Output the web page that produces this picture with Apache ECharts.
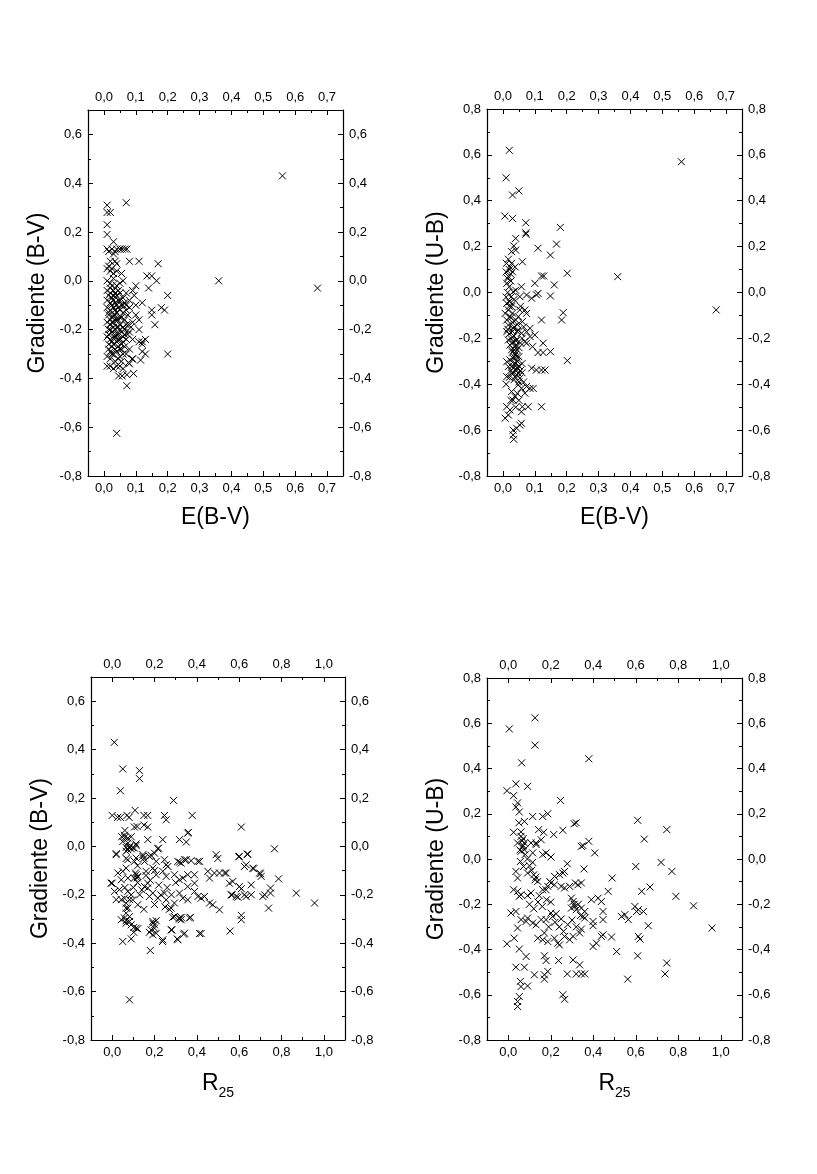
<!DOCTYPE html>
<html><head><meta charset="utf-8">
<script src="https://cdn.jsdelivr.net/npm/echarts@6/dist/echarts.min.js"></script>
<style>html,body{margin:0;padding:0;background:#fff}#c{width:817px;height:1174px}</style>
</head><body><div id="c"></div>
<script>
// Panel 1: E(B-V) vs Gradiente (B-V)
const ebvBV = [
[0.56,0.43],[0.07,0.32],[0.01,0.31],[0.01,0.28],[0.02,0.28],[0.01,0.23],[0.01,0.19],[0.03,0.16],
[0.01,0.13],[0.015,0.12],[0.025,0.13],[0.035,0.12],[0.04,0.13],[0.05,0.13],[0.057,0.13],[0.065,0.13],[0.072,0.13],[0.03,0.11],
[0.02,0.08],[0.035,0.08],[0.04,0.07],[0.08,0.08],[0.11,0.08],[0.17,0.07],
[0.01,0.05],[0.02,0.04],[0.03,0.03],[0.04,0.04],[0.055,0.03],[0.015,0.06],[0.025,0.05],
[0.135,0.02],[0.15,0.02],[0.165,0.0],[0.36,0.0],[0.67,-0.03],[0.2,-0.06],[0.1,-0.02],[0.09,-0.04],[0.14,-0.03],
[0.15,-0.12],[0.15,-0.14],[0.18,-0.11],[0.19,-0.12],[0.16,-0.18],[0.12,-0.09],[0.1,-0.1],[0.08,-0.08],
[0.11,-0.2],[0.11,-0.25],[0.12,-0.25],[0.13,-0.24],[0.12,-0.29],[0.13,-0.3],[0.2,-0.3],[0.09,-0.32],[0.07,-0.3],[0.08,-0.28],[0.08,-0.34],
[0.046,-0.39],[0.057,-0.39],[0.072,-0.385],[0.093,-0.38],[0.072,-0.43],[0.04,-0.35],[0.05,-0.35],[0.01,-0.35],[0.02,-0.35],[0.03,-0.36],[0.06,-0.36],
[0.01,-0.31],[0.02,-0.32],[0.04,-0.625],[0.077,-0.18],[0.12,-0.26],[0.115,-0.325],[0.088,-0.32],[0.077,-0.335],
[0.01,0.0],[0.02,-0.01],[0.03,0.01],[0.04,-0.02],[0.05,-0.01],[0.06,0.0],
[0.01,-0.04],[0.02,-0.05],[0.03,-0.04],[0.04,-0.06],[0.05,-0.05],[0.06,-0.07],[0.07,-0.05],
[0.01,-0.08],[0.02,-0.09],[0.025,-0.07],[0.035,-0.09],[0.045,-0.08],[0.055,-0.1],[0.065,-0.09],
[0.01,-0.11],[0.02,-0.12],[0.03,-0.11],[0.04,-0.13],[0.05,-0.12],[0.06,-0.13],[0.07,-0.12],[0.08,-0.11],
[0.015,-0.14],[0.025,-0.15],[0.035,-0.14],[0.045,-0.16],[0.055,-0.15],[0.065,-0.16],[0.075,-0.14],
[0.01,-0.17],[0.02,-0.18],[0.03,-0.17],[0.04,-0.19],[0.05,-0.18],[0.06,-0.19],[0.07,-0.18],[0.09,-0.17],
[0.015,-0.2],[0.025,-0.21],[0.035,-0.2],[0.045,-0.22],[0.055,-0.21],[0.065,-0.22],[0.08,-0.21],
[0.01,-0.23],[0.02,-0.24],[0.03,-0.23],[0.04,-0.25],[0.05,-0.24],[0.06,-0.25],[0.07,-0.24],
[0.015,-0.26],[0.025,-0.27],[0.035,-0.28],[0.045,-0.27],[0.055,-0.28],[0.065,-0.27],
[0.02,-0.29],[0.03,-0.3],[0.04,-0.29],[0.05,-0.31],[0.06,-0.3],
[0.03,-0.06],[0.04,-0.1],[0.02,-0.16],[0.03,-0.19],[0.04,-0.22],[0.03,-0.26],[0.05,-0.15],[0.045,-0.04],
[0.035,-0.12],[0.025,-0.02],[0.06,-0.23],[0.1,-0.14],[0.09,-0.24],[0.11,-0.16],[0.085,-0.19],[0.095,-0.06],
[0.015,-0.06],[0.025,-0.1],[0.035,-0.05],[0.045,-0.11],[0.015,-0.13],[0.025,-0.17],[0.035,-0.16],[0.045,-0.19],
[0.015,-0.22],[0.025,-0.25],[0.035,-0.23],[0.045,-0.24],[0.015,-0.28],[0.025,-0.3],[0.035,-0.33],[0.045,-0.32],
[0.055,-0.33],[0.05,-0.2],[0.02,-0.2],[0.03,-0.14],[0.04,-0.16],[0.05,-0.08],[0.02,-0.03],[0.03,-0.08],
[0.055,-0.26],[0.065,-0.2],[0.07,-0.1],[0.075,-0.22],[0.06,-0.1],[0.05,-0.28]
];

// Panel 2: E(B-V) vs Gradiente (U-B)
const ebvUB = [
[0.02,0.62],[0.56,0.57],[0.01,0.50],[0.03,0.425],[0.05,0.443],[0.006,0.333],[0.03,0.323],[0.072,0.304],[0.072,0.26],[0.072,0.254],
[0.18,0.284],[0.04,0.236],[0.034,0.203],[0.027,0.178],[0.04,0.185],[0.11,0.193],[0.168,0.211],[0.149,0.163],[0.061,0.134],[0.017,0.145],
[0.027,0.127],[0.011,0.127],[0.038,0.112],[0.022,0.112],[0.121,0.072],[0.128,0.072],[0.1,0.04],[0.161,0.033],[0.202,0.084],[0.36,0.069],
[0.017,0.07],[0.025,0.05],[0.012,0.04],[0.02,0.025],[0.03,0.09],[0.032,0.003],[0.058,0.025],[0.074,-0.011],[0.053,-0.018],[0.09,-0.025],
[0.105,-0.01],[0.11,-0.004],[0.149,-0.015],[0.669,-0.076],[0.012,-0.047],[0.017,-0.076],[0.027,-0.062],[0.007,-0.091],[0.022,-0.105],[0.012,-0.12],
[0.053,-0.076],[0.069,-0.076],[0.074,-0.091],[0.048,-0.105],[0.121,-0.12],[0.184,-0.12],[0.189,-0.088],[0.061,-0.127],[0.017,-0.142],[0.032,-0.156],
[0.012,-0.171],[0.048,-0.163],[0.074,-0.171],[0.085,-0.156],[0.058,-0.178],[0.1,-0.185],[0.085,-0.192],[0.017,-0.207],[0.032,-0.214],[0.043,-0.207],
[0.022,-0.229],[0.038,-0.236],[0.069,-0.214],[0.074,-0.221],[0.093,-0.236],[0.11,-0.262],[0.126,-0.221],[0.126,-0.262],[0.149,-0.258],[0.027,-0.25],
[0.038,-0.265],[0.032,-0.287],[0.043,-0.28],[0.022,-0.294],[0.012,-0.302],[0.202,-0.297],[0.09,-0.33],[0.105,-0.338],[0.121,-0.338],[0.132,-0.338],
[0.017,-0.323],[0.032,-0.33],[0.043,-0.338],[0.027,-0.352],[0.012,-0.367],[0.038,-0.367],[0.048,-0.352],[0.053,-0.374],[0.048,-0.403],[0.058,-0.418],
[0.074,-0.41],[0.085,-0.418],[0.095,-0.418],[0.027,-0.432],[0.038,-0.454],[0.032,-0.469],[0.069,-0.439],[0.012,-0.498],[0.022,-0.512],[0.017,-0.534],
[0.007,-0.548],[0.061,-0.498],[0.058,-0.52],[0.079,-0.498],[0.121,-0.498],[0.032,-0.6],[0.043,-0.592],[0.053,-0.578],[0.058,-0.57],[0.032,-0.621],[0.034,-0.64],
[0.01,0.09],[0.02,0.1],[0.015,0.0],[0.025,-0.02],[0.035,-0.03],[0.04,0.01],[0.01,-0.02],[0.02,-0.06],[0.03,-0.09],[0.04,-0.12],
[0.03,-0.13],[0.02,-0.18],[0.035,-0.19],[0.045,-0.17],[0.025,-0.2],[0.03,-0.22],[0.04,-0.23],[0.05,-0.24],[0.035,-0.25],[0.03,-0.26],
[0.04,-0.27],[0.045,-0.3],[0.035,-0.31],[0.03,-0.32],[0.05,-0.32],[0.04,-0.34],[0.025,-0.34],[0.055,-0.34],[0.045,-0.36],[0.06,-0.35],
[0.02,-0.37],[0.065,-0.39],[0.01,-0.4],[0.06,-0.2],[0.055,-0.06],[0.065,-0.15],[0.045,-0.44],[0.05,-0.47],[0.025,-0.47],[0.04,-0.5],
[0.015,0.06],[0.025,0.08],[0.02,-0.04],[0.03,-0.05],[0.025,-0.11],[0.035,-0.15],[0.015,-0.16],[0.03,-0.17],[0.04,-0.21],[0.045,-0.25],
[0.035,-0.28],[0.05,-0.28],[0.04,-0.31],[0.03,-0.35],[0.045,-0.33],[0.035,-0.38],[0.05,-0.39],[0.06,-0.31],[0.055,-0.22],[0.045,-0.14]
];

// Panel 3: R25 vs Gradiente (B-V)
const r25BV = [
[0.01,0.43],[0.05,0.32],[0.129,0.313],[0.129,0.28],[0.039,0.23],[0.29,0.19],
[0.0,0.128],[0.026,0.12],[0.039,0.12],[0.07,0.128],[0.08,0.12],[0.108,0.149],[0.15,0.128],[0.168,0.128],[0.247,0.128],[0.255,0.11],[0.378,0.128],
[0.61,0.08],[0.105,0.08],[0.118,0.082],[0.15,0.088],[0.168,0.08],[0.06,0.066],
[0.045,0.04],[0.06,0.037],[0.09,0.04],[0.05,0.02],[0.074,0.014],[0.168,0.028],[0.239,0.028],[0.318,0.028],[0.35,0.018],[0.36,0.058],[0.113,0.01],
[0.767,-0.01],[0.219,-0.007],[0.08,-0.005],[0.096,-0.005],[0.019,-0.03],[0.066,-0.004],[0.082,0.0],[0.066,-0.02],[0.09,-0.01],[0.105,-0.007],
[0.066,-0.05],[0.105,-0.062],[0.145,-0.041],[0.153,-0.062],[0.184,-0.037],[0.216,-0.01],
[0.318,-0.065],[0.342,-0.055],[0.373,-0.059],[0.405,-0.062],[0.491,-0.034],[0.499,-0.05],[0.598,-0.043],[0.638,-0.032],
[0.625,-0.083],[0.669,-0.092],[0.701,-0.113],[0.786,-0.134],[0.748,-0.172],[0.748,-0.193],[0.739,-0.255],[0.87,-0.193],[0.956,-0.234],[0.72,-0.2],
[0.567,-0.2],[0.594,-0.21],[0.625,-0.2],[0.657,-0.2],[0.61,-0.175],
[0.61,-0.285],[0.61,-0.303],[0.557,-0.35],[0.413,-0.36],[0.42,-0.36],[0.282,-0.345],[0.307,-0.382],[0.338,-0.363],[0.238,-0.393],[0.18,-0.43],
[0.05,-0.393],[0.09,-0.382],[0.082,-0.634],
[0.286,-0.293],[0.318,-0.3],[0.326,-0.293],[0.37,-0.293],
[0.176,-0.355],[0.192,-0.365],[0.2,-0.338],[0.192,-0.317],[0.208,-0.307],
[0.102,-0.335],[0.102,-0.355],[0.121,-0.34],[0.043,-0.303],[0.066,-0.307],[0.09,-0.324],
[0.066,-0.255],[0.066,-0.276],[0.082,-0.29],[0.0,-0.152],[0.019,-0.22],[0.043,-0.22],[0.066,-0.235],[0.082,-0.22],
[0.058,0.046],[0.074,0.034],[0.357,0.055],
[0.019,-0.034],[0.074,-0.014],[0.113,0.004],[0.074,-0.055],[0.113,-0.048],
[0.145,-0.034],[0.176,-0.041],[0.2,-0.028],[0.208,-0.062],[0.247,-0.055],[0.255,-0.076],[0.263,-0.083],
[0.31,-0.062],[0.326,-0.069],[0.35,-0.055],[0.413,-0.062],
[0.601,-0.041],[0.641,-0.032],[0.633,-0.076],[0.664,-0.09],[0.696,-0.11],
[0.027,-0.11],[0.05,-0.103],[0.066,-0.09],[0.074,-0.131],[0.043,-0.138],[-0.005,-0.152],
[0.113,-0.117],[0.121,-0.124],[0.105,-0.131],[0.11,-0.11],[0.118,-0.13],
[0.16,-0.103],[0.192,-0.09],[0.208,-0.117],[0.239,-0.103],[0.255,-0.124],[0.168,-0.152],[0.153,-0.166],
[0.294,-0.117],[0.318,-0.138],[0.334,-0.131],[0.357,-0.117],[0.389,-0.117],[0.357,-0.166],[0.389,-0.152],
[0.452,-0.103],[0.46,-0.131],[0.483,-0.11],[0.507,-0.11],[0.531,-0.11],[0.539,-0.11],
[0.554,-0.152],[0.57,-0.145],[0.601,-0.166],[0.657,-0.159],[0.704,-0.124],
[0.562,-0.2],[0.586,-0.207],[0.633,-0.207],[0.712,-0.207],
[0.011,-0.186],[0.034,-0.179],[0.074,-0.186],[0.058,-0.214],[0.097,-0.221],[0.121,-0.241],[0.074,-0.255],
[0.168,-0.172],[0.192,-0.193],[0.176,-0.207],[0.216,-0.214],[0.247,-0.193],[0.255,-0.221],[0.279,-0.255],[0.294,-0.234],
[0.318,-0.193],[0.334,-0.214],[0.357,-0.221],[0.389,-0.186],[0.405,-0.207],[0.42,-0.214],[0.436,-0.207],[0.46,-0.234],[0.475,-0.241],[0.507,-0.262],
[0.058,-0.296],[0.082,-0.31],[0.066,-0.317],[0.113,-0.338],
[0.192,-0.31],[0.2,-0.324],[0.184,-0.345],[0.208,-0.359],
[0.294,-0.29],[0.318,-0.296],[0.326,-0.303],[0.365,-0.296],
[0.279,-0.345],[0.342,-0.359],[0.31,-0.386],[0.239,-0.386],
[0.12,-0.15],[0.13,-0.2],[0.14,-0.18],[0.18,-0.14],[0.22,-0.16],[0.23,-0.2],[0.26,-0.17],[0.28,-0.2],[0.3,-0.15],[0.1,-0.17],
[0.09,-0.2],[0.2,-0.24],[0.25,-0.25],[0.27,-0.26],[0.15,-0.26],[0.16,-0.12],[0.06,-0.17],[0.12,-0.08],[0.2,-0.1],[0.15,-0.05]
];

// Panel 4: R25 vs Gradiente (U-B)
const r25UB = [
[0.126,0.624],[0.005,0.575],[0.126,0.503],[0.379,0.443],[0.063,0.425],[0.036,0.332],[0.091,0.321],[-0.006,0.302],[0.025,0.28],[0.246,0.259],
[0.044,0.248],[0.036,0.23],[0.052,0.208],[0.115,0.188],[0.162,0.188],[0.186,0.2],[0.05,0.16],[0.076,0.166],[0.31,0.156],[0.32,0.16],
[0.609,0.171],[0.746,0.13],[0.025,0.118],[0.143,0.13],[0.167,0.118],[0.214,0.108],[0.257,0.127],[0.64,0.088],[0.044,0.071],[0.076,0.071],
[0.107,0.071],[0.131,0.071],[0.155,0.085],[0.352,0.059],[0.379,0.078],
[0.068,0.056],[0.06,0.034],[0.076,0.041],[0.131,0.064],[0.115,0.027],[0.162,0.019],[0.178,0.027],[0.201,0.009],[0.344,0.056],[0.407,0.027],
[0.057,-0.011],[0.115,-0.015],[0.072,-0.033],[0.091,-0.062],[0.126,-0.092],[0.139,-0.099],[0.036,-0.055],[0.044,-0.084],[0.6,-0.033],[0.719,-0.015],[0.77,-0.055],
[0.278,-0.021],[0.265,-0.055],[0.257,-0.062],[0.241,-0.069],[0.218,-0.077],[0.195,-0.099],[0.178,-0.136],[0.356,-0.044],[0.316,-0.106],[0.328,-0.114],[0.344,-0.106],[0.489,-0.084],
[0.025,-0.136],[0.044,-0.143],[0.052,-0.165],[0.06,-0.158],[0.091,-0.162],[0.107,-0.15],[0.146,-0.162],[0.162,-0.136],[0.186,-0.121],[0.201,-0.106],
[0.217,-0.114],[0.249,-0.121],[0.265,-0.128],[0.289,-0.121],
[0.47,-0.143],[0.628,-0.143],[0.667,-0.124],[0.789,-0.165],[0.872,-0.207],[0.959,-0.305],
[0.297,-0.173],[0.305,-0.188],[0.313,-0.21],[0.297,-0.217],[0.32,-0.224],[0.344,-0.217],[0.36,-0.232],[0.391,-0.18],[0.423,-0.173],[0.438,-0.188],
[0.352,-0.254],[0.36,-0.261],[0.446,-0.232],[0.446,-0.268],[0.399,-0.276],[0.399,-0.295],
[0.596,-0.21],[0.612,-0.224],[0.636,-0.232],[0.533,-0.254],[0.549,-0.246],[0.565,-0.268],[0.604,-0.232],[0.659,-0.295],[0.612,-0.342],[0.62,-0.354],
[0.013,-0.239],[0.036,-0.232],[0.06,-0.268],[0.084,-0.276],[0.091,-0.261],[0.115,-0.283],[0.131,-0.291],[0.155,-0.268],[0.178,-0.268],[0.201,-0.239],
[0.209,-0.254],[0.225,-0.242],[0.249,-0.265],
[0.044,-0.305],[0.028,-0.35],[-0.006,-0.375],[0.052,-0.398],[0.084,-0.431],
[0.139,-0.35],[0.162,-0.357],[0.17,-0.327],[0.186,-0.365],[0.217,-0.35],[0.233,-0.372],[0.241,-0.38],[0.265,-0.342],[0.289,-0.357],[0.305,-0.342],[0.336,-0.327],[0.344,-0.31],
[0.399,-0.387],[0.415,-0.372],[0.438,-0.342],[0.446,-0.335],[0.486,-0.345],[0.51,-0.409],[0.609,-0.428],
[0.036,-0.478],[0.076,-0.478],[0.123,-0.512],[0.17,-0.428],[0.178,-0.449],[0.17,-0.512],[0.186,-0.497],[0.17,-0.531],[0.237,-0.449],[0.278,-0.508],
[0.32,-0.508],[0.305,-0.446],[0.336,-0.468],[0.344,-0.508],[0.36,-0.508],
[0.057,-0.541],[0.06,-0.564],[0.091,-0.561],[0.052,-0.608],[0.044,-0.63],[0.044,-0.652],[0.257,-0.6],[0.265,-0.62],[0.562,-0.531],[0.746,-0.46],[0.738,-0.508],
[0.06,0.1],[0.065,0.08],[0.07,0.06],[0.055,0.04],[0.08,0.02],[0.09,0.0],[0.1,-0.03],[0.11,-0.05],[0.12,-0.07],[0.13,-0.08],[0.06,0.12],[0.07,0.09],
[0.1,-0.2],[0.12,-0.22],[0.14,-0.19],[0.16,-0.21],[0.18,-0.18],[0.2,-0.19],[0.22,-0.28],[0.19,-0.3],[0.24,-0.3],[0.26,-0.32],[0.28,-0.29],[0.3,-0.27],
[0.32,-0.3],[0.34,-0.25],[0.31,-0.2],[0.33,-0.2]
];

// Tick values
const xMajorE = [0,0.1,0.2,0.3,0.4,0.5,0.6,0.7];
const xMinorE = [0.05,0.15,0.25,0.35,0.45,0.55,0.65];
const xMajorR = [0,0.2,0.4,0.6,0.8,1.0];
const xMinorR = [0.1,0.3,0.5,0.7,0.9];
const yMajorBV = [-0.8,-0.6,-0.4,-0.2,0,0.2,0.4,0.6];
const yMinorBV = [-0.7,-0.5,-0.3,-0.1,0.1,0.3,0.5];
const yMajorUB = [-0.8,-0.6,-0.4,-0.2,0,0.2,0.4,0.6,0.8];
const yMinorUB = [-0.7,-0.5,-0.3,-0.1,0.1,0.3,0.5,0.7];

const FONT = '"Liberation Sans", Arial, Helvetica, sans-serif';
const fmt = v => (Math.round(v * 10) / 10).toFixed(1).replace('.', ',').replace('-0,0', '0,0');

function axesFor(gridIndex, range, major, minor, posA, posB, nameCfg) {
  const list = [];
  [posA, posB].forEach((pos, k) => {
    list.push(Object.assign({
      type: 'value', gridIndex, position: pos, min: range[0], max: range[1],
      axisLine: {show: true, onZero: false, lineStyle: {color: '#000', width: 1.2}},
      axisTick: {show: true, inside: true, length: 5, customValues: major, lineStyle: {color: '#000', width: 1}},
      axisLabel: {show: true, customValues: major, formatter: fmt, color: '#000', fontSize: 13, fontFamily: FONT, margin: 6},
      splitLine: {show: false}
    }, k === 0 ? nameCfg : {}));
    list.push({
      type: 'value', gridIndex, position: pos, min: range[0], max: range[1],
      axisLine: {show: false, onZero: false}, axisLabel: {show: false}, splitLine: {show: false},
      axisTick: {show: true, inside: true, length: 3, customValues: minor, lineStyle: {color: '#000', width: 1}}
    });
  });
  return list;
}

const titleStyle = {fontSize: 23, color: '#000', fontFamily: FONT};
const xNameE = {name: 'E(B-V)', nameLocation: 'middle', nameGap: 30, nameTextStyle: titleStyle};
const xNameR = {name: '{r|R}{s|25}', nameLocation: 'middle', nameGap: 32,
  nameTextStyle: {rich: {
    r: {fontSize: 23, lineHeight: 23, verticalAlign: 'top', color: '#000', fontFamily: FONT},
    s: {fontSize: 14, lineHeight: 28, verticalAlign: 'bottom', color: '#000', fontFamily: FONT}
  }}};
const yName = t => ({name: t, nameLocation: 'middle', nameGap: 39, nameTextStyle: titleStyle});

const grids = [
  {left: 88, top: 110, width: 255, height: 366},
  {left: 487, top: 109, width: 255, height: 367},
  {left: 91, top: 677, width: 254, height: 363},
  {left: 487, top: 678, width: 255, height: 362}
];
const xR1 = [-0.05, 0.75], xR2 = [-0.1, 1.1], yR1 = [-0.8, 0.7], yR2 = [-0.8, 0.8];

const xAxis = [].concat(
  axesFor(0, xR1, xMajorE, xMinorE, 'bottom', 'top', xNameE),
  axesFor(1, xR1, xMajorE, xMinorE, 'bottom', 'top', xNameE),
  axesFor(2, xR2, xMajorR, xMinorR, 'bottom', 'top', xNameR),
  axesFor(3, xR2, xMajorR, xMinorR, 'bottom', 'top', xNameR)
);
const yAxis = [].concat(
  axesFor(0, yR1, yMajorBV, yMinorBV, 'left', 'right', yName('Gradiente (B-V)')),
  axesFor(1, yR2, yMajorUB, yMinorUB, 'left', 'right', yName('Gradiente (U-B)')),
  axesFor(2, yR1, yMajorBV, yMinorBV, 'left', 'right', yName('Gradiente (B-V)')),
  axesFor(3, yR2, yMajorUB, yMinorUB, 'left', 'right', yName('Gradiente (U-B)'))
);

const XSYM = 'path://M0,0L10,10M10,0L0,10';
const mk = (data, g) => ({
  type: 'scatter', xAxisIndex: 4 * g, yAxisIndex: 4 * g, data,
  symbol: XSYM, symbolSize: 7, silent: true,
  itemStyle: {color: 'rgba(0,0,0,0)', borderColor: '#000', borderWidth: 1, opacity: 1}
});

const chart = echarts.init(document.getElementById('c'), null, {renderer: 'canvas'});
chart.setOption({
  animation: false,
  backgroundColor: '#fff',
  grid: grids,
  xAxis, yAxis,
  series: [mk(ebvBV, 0), mk(ebvUB, 1), mk(r25BV, 2), mk(r25UB, 3)]
});
</script></body></html>
